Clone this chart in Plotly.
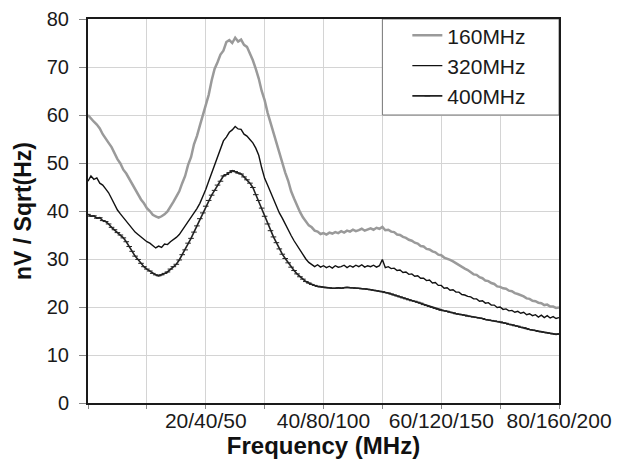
import plotly.graph_objects as go

# Frequency axis (in units of the 160 MHz clock scale), step 0.5
freq = [i * 0.5 for i in range(161)]

tick_vals = [0, 10, 20, 30, 40, 50, 60, 70, 80]
tick_text = ["", "", "20/40/50", "", "40/80/100", "", "60/120/150", "", "80/160/200"]

s160 = [
    60.0, 59.2, 58.6, 58.0, 57.2, 56.0, 55.0, 54.2, 53.3, 52.0,
    50.8, 49.9, 48.6, 47.8, 46.7, 45.6, 44.8, 43.5, 42.4, 41.6,
    40.6, 40.0, 39.2, 38.9, 38.6, 38.9, 39.3, 39.9, 40.8, 41.9,
    43.0, 44.1, 45.8, 47.3, 49.6, 51.2, 53.9, 55.6, 57.8, 60.0,
    61.9, 64.2, 67.2, 69.6, 71.0, 72.6, 73.4, 75.2, 75.6, 75.0,
    76.1, 75.3, 75.7, 74.6, 74.2, 72.9, 71.4, 69.6, 67.6, 65.0,
    63.1, 60.5, 58.4, 55.9, 54.0, 51.8, 50.1, 48.0, 46.3, 44.1,
    42.6, 41.0, 39.8, 38.7, 37.9, 37.0, 36.6, 35.9, 35.7, 35.2,
    35.4, 35.1, 35.5, 35.3, 35.6, 35.4, 35.8, 35.5, 35.9, 35.7,
    36.1, 35.8, 36.0, 36.3, 35.9, 36.2, 36.4, 36.1, 36.5, 36.3,
    36.7, 36.0, 36.1, 35.7, 35.6, 35.1, 35.0, 34.6, 34.4, 34.0,
    33.8, 33.4, 33.2, 32.7, 32.6, 32.1, 32.0, 31.6, 31.4, 30.9,
    30.8, 30.3, 30.1, 29.8, 29.5, 29.1, 28.8, 28.4, 28.0, 27.7,
    27.3, 26.8, 26.7, 26.2, 26.0, 25.5, 25.4, 25.0, 24.8, 24.3,
    24.2, 23.9, 23.8, 23.4, 23.3, 22.9, 22.7, 22.5, 22.2, 21.8,
    21.7, 21.3, 21.2, 20.9, 20.8, 20.4, 20.5, 20.1, 20.1, 19.8,
    19.9,
]

s320 = [
    46.2, 47.3, 46.6, 46.9, 45.8, 45.4, 44.6, 43.8, 42.6, 41.3,
    40.2, 39.4, 38.6, 37.8, 37.0, 36.4, 35.6, 35.1, 34.6, 34.0,
    33.6, 33.3, 32.8, 32.3, 32.7, 32.4, 33.1, 33.0, 33.6, 34.0,
    34.5, 35.1, 36.0, 36.8, 37.9, 38.6, 39.6, 40.5, 41.6, 43.0,
    44.5, 46.2, 47.9, 49.4, 51.3, 52.8, 54.6, 55.4, 56.4, 56.9,
    57.6, 57.1, 57.0, 56.0, 55.6, 54.9, 54.2, 53.1, 51.6, 49.0,
    46.8, 45.4, 43.9, 42.2, 41.0, 39.6, 38.5, 37.2, 36.1, 34.9,
    33.8, 32.8, 31.7, 30.9, 30.0, 29.3, 28.9, 28.4, 28.8, 28.3,
    28.6, 28.2, 28.5, 28.1, 28.6, 28.3, 28.4, 28.7, 28.2, 28.6,
    28.3, 28.7, 28.4, 28.8, 28.3, 28.6, 28.4, 28.7, 28.3, 28.6,
    29.9, 28.2, 28.4, 28.0, 28.1, 27.6, 27.7, 27.2, 27.3, 26.8,
    26.9, 26.4, 26.5, 26.0, 26.0, 25.5, 25.6, 25.0, 25.1, 24.5,
    24.5, 23.9, 24.0, 23.5, 23.6, 23.1, 23.1, 22.6, 22.5, 22.2,
    22.1, 21.7, 21.7, 21.2, 21.3, 20.8, 20.9, 20.4, 20.4, 19.9,
    20.0, 19.5, 19.6, 19.2, 19.3, 18.9, 19.1, 18.7, 18.9, 18.4,
    18.6, 18.2, 18.4, 17.9, 18.3, 17.8, 18.2, 17.7, 18.0, 17.6,
    17.8,
]

s400 = [
    39.3, 38.9, 39.0, 38.5, 38.6, 38.0, 37.8, 37.3, 36.6, 36.1,
    35.5, 35.0, 34.4, 33.6, 32.6, 31.6, 30.6, 29.9, 29.1, 28.4,
    27.9, 27.5, 27.0, 26.7, 26.5, 26.7, 27.0, 27.3, 27.9, 28.4,
    28.9, 29.8, 30.9, 31.9, 33.3, 34.3, 35.6, 36.9, 38.4, 39.6,
    41.0, 42.2, 43.3, 44.3, 45.4, 46.2, 47.3, 47.6, 48.0, 48.4,
    48.2, 47.9, 47.7, 47.1, 46.5, 45.8, 44.9, 43.4, 42.2, 40.6,
    38.9, 37.3, 35.9, 34.6, 33.4, 32.1, 31.0, 30.1, 29.2, 28.3,
    27.6, 26.9, 26.3, 25.8, 25.3, 25.0, 24.7, 24.5, 24.3, 24.2,
    24.1, 24.0, 24.0, 23.9, 23.9, 24.0, 23.9, 24.0, 24.1, 24.0,
    24.0, 23.9, 23.9, 23.8, 23.8, 23.7, 23.6, 23.5, 23.4, 23.3,
    23.2, 23.0, 22.9, 22.7, 22.5, 22.3, 22.1, 21.9, 21.7, 21.5,
    21.3, 21.2, 21.0, 20.8, 20.5, 20.3, 20.1, 19.9, 19.7, 19.5,
    19.3, 19.2, 19.1, 18.9, 18.8, 18.6, 18.5, 18.4, 18.3, 18.1,
    18.0, 17.9, 17.8, 17.7, 17.6, 17.4, 17.3, 17.2, 17.1, 17.0,
    16.9, 16.7, 16.6, 16.4, 16.3, 16.1, 16.0, 15.8, 15.7, 15.5,
    15.3, 15.2, 15.1, 14.9, 14.8, 14.7, 14.6, 14.5, 14.4, 14.3,
    14.4,
]

FONT = "Liberation Sans, Arial, sans-serif"

fig = go.Figure()
fig.add_trace(go.Scatter(x=freq, y=s160, mode="lines", name="160MHz",
                         line=dict(color="#9a9a9a", width=2.5)))
fig.add_trace(go.Scatter(x=freq, y=s320, mode="lines", name="320MHz",
                         line=dict(color="#111111", width=1.4)))
fig.add_trace(go.Scatter(x=freq, y=s400, mode="lines+markers", name="400MHz",
                         line=dict(color="#222222", width=1.6),
                         marker=dict(symbol="line-ew", size=4, color="#222222",
                                     line=dict(color="#222222", width=1))))

# legend box (white, covers grid)
fig.add_shape(type="rect", xref="x", yref="y", x0=50, x1=80, y0=60, y1=80,
              fillcolor="white", line=dict(color="#777777", width=1), layer="above")

# The page body adds an 8px offset, so the figure is sized to fit the window.
fig.update_layout(
    width=616, height=455,
    margin=dict(l=80, r=65, t=11, b=60, autoexpand=False),
    paper_bgcolor="white", plot_bgcolor="white",
    font=dict(family=FONT, color="#1a1a1a", size=20),
    showlegend=True,
    legend=dict(x=0.678, y=1.01, xanchor="left", yanchor="top",
                bgcolor="rgba(0,0,0,0)", borderwidth=0,
                font=dict(size=21, family=FONT, color="#1a1a1a"),
                itemwidth=30, tracegroupgap=0),
)
fig.update_xaxes(
    range=[0, 80], tickmode="array", tickvals=tick_vals, ticktext=tick_text,
    automargin=False,
    showgrid=True, gridcolor="#d4d4d4", gridwidth=1,
    showline=True, linecolor="#1a1a1a", linewidth=2, mirror=True,
    ticks="outside", ticklen=4, tickcolor="#888888",
    tickfont=dict(size=21, family=FONT, color="#1a1a1a"),
    ticklabelstandoff=-6,
    zeroline=False,
    title=dict(text="<b>Frequency (MHz)</b>", font=dict(size=24, family=FONT, color="#111111"),
               standoff=0),
)
fig.update_yaxes(
    range=[0, 80], tickmode="linear", tick0=0, dtick=10,
    automargin=False,
    showgrid=True, gridcolor="#d4d4d4", gridwidth=1,
    showline=True, linecolor="#1a1a1a", linewidth=2, mirror=True,
    ticks="outside", ticklen=7, tickcolor="#888888",
    tickfont=dict(size=20, family=FONT, color="#1a1a1a"),
    ticklabelstandoff=6,
    zeroline=False,
    title=dict(text="<b>nV / Sqrt(Hz)</b>", font=dict(size=23, family=FONT, color="#111111"),
               standoff=9),
)

fig.write_html("out.html")
